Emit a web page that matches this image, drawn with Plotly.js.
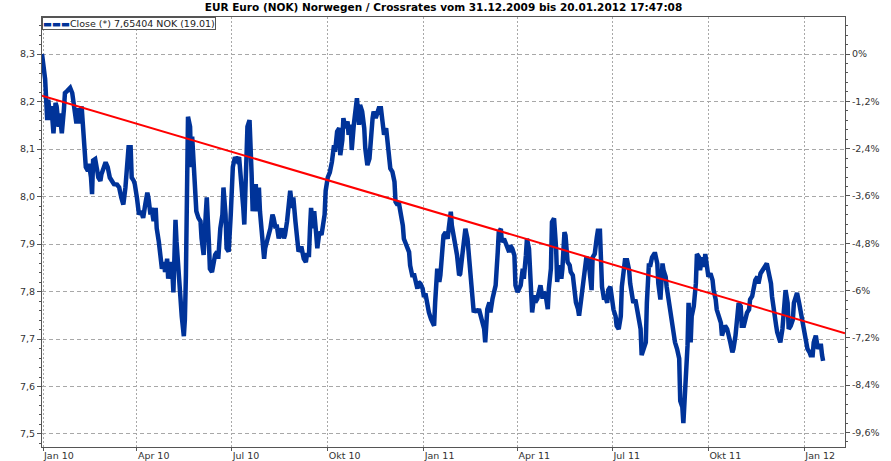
<!DOCTYPE html>
<html>
<head>
<meta charset="utf-8">
<script src="https://cdn.plot.ly/plotly-3.0.1.min.js"></script>
<style>html,body{margin:0;padding:0;background:#fff;}#chart{width:891px;height:461px;}</style>
</head>
<body>
<div id="chart"></div>
<script>
// ---- data ----
const closeDates = [
'2009-12-31','2010-01-03','2010-01-05','2010-01-06','2010-01-08','2010-01-09','2010-01-11','2010-01-13','2010-01-14','2010-01-16',
'2010-01-17','2010-01-19','2010-01-21','2010-01-22','2010-01-24','2010-01-27','2010-01-29','2010-01-31','2010-02-02','2010-02-03',
'2010-02-05','2010-02-07','2010-02-08','2010-02-10','2010-02-11','2010-02-13','2010-02-14','2010-02-16','2010-02-17','2010-02-18',
'2010-02-20','2010-02-22','2010-02-23','2010-02-25','2010-02-26','2010-03-02','2010-03-04','2010-03-06','2010-03-10','2010-03-13',
'2010-03-15','2010-03-17','2010-03-19','2010-03-21','2010-03-22','2010-03-24','2010-03-26','2010-03-27','2010-03-29','2010-03-30',
'2010-04-01','2010-04-03','2010-04-05','2010-04-07','2010-04-09','2010-04-11','2010-04-12','2010-04-14','2010-04-15','2010-04-17',
'2010-04-19','2010-04-20','2010-04-22','2010-04-23','2010-04-25','2010-04-27','2010-04-28','2010-04-30','2010-05-01','2010-05-03',
'2010-05-05','2010-05-06','2010-05-07','2010-05-08','2010-05-09','2010-05-11','2010-05-13','2010-05-14','2010-05-16','2010-05-17',
'2010-05-18','2010-05-19','2010-05-20','2010-05-22','2010-05-23','2010-05-24','2010-05-26','2010-05-28','2010-05-30','2010-06-01',
'2010-06-02','2010-06-04','2010-06-06','2010-06-07','2010-06-09','2010-06-10','2010-06-12','2010-06-14','2010-06-15','2010-06-17',
'2010-06-18','2010-06-20','2010-06-22','2010-06-23','2010-06-25','2010-06-26','2010-06-28','2010-06-30','2010-07-01','2010-07-02',
'2010-07-04','2010-07-06','2010-07-08','2010-07-10','2010-07-12','2010-07-13','2010-07-15','2010-07-16','2010-07-18','2010-07-19',
'2010-07-20','2010-07-21','2010-07-23','2010-07-24','2010-07-25','2010-07-27','2010-07-28','2010-07-30','2010-08-01','2010-08-02',
'2010-08-04','2010-08-05','2010-08-07','2010-08-09','2010-08-10','2010-08-12','2010-08-13','2010-08-15','2010-08-17','2010-08-18',
'2010-08-20','2010-08-21','2010-08-23','2010-08-25','2010-08-26','2010-08-28','2010-08-29','2010-08-31','2010-09-02','2010-09-03',
'2010-09-05','2010-09-06','2010-09-08','2010-09-10','2010-09-11','2010-09-13','2010-09-14','2010-09-15','2010-09-17','2010-09-18',
'2010-09-20','2010-09-21','2010-09-23','2010-09-25','2010-09-26','2010-09-28','2010-09-29','2010-10-01','2010-10-03','2010-10-05',
'2010-10-07','2010-10-08','2010-10-10','2010-10-12','2010-10-13','2010-10-15','2010-10-16','2010-10-18','2010-10-20','2010-10-21',
'2010-10-23','2010-10-24','2010-10-26','2010-10-28','2010-10-29','2010-10-31','2010-11-01','2010-11-03','2010-11-05','2010-11-06',
'2010-11-08','2010-11-10','2010-11-11','2010-11-13','2010-11-14','2010-11-16','2010-11-18','2010-11-19','2010-11-21','2010-11-22',
'2010-11-24','2010-11-26','2010-11-27','2010-11-29','2010-11-30','2010-12-02','2010-12-04','2010-12-05','2010-12-07','2010-12-08',
'2010-12-10','2010-12-12','2010-12-13','2010-12-15','2010-12-16','2010-12-18','2010-12-19','2010-12-21','2010-12-23','2010-12-24',
'2010-12-26','2010-12-27','2010-12-29','2010-12-31','2011-01-01','2011-01-03','2011-01-04','2011-01-06','2011-01-08','2011-01-09',
'2011-01-11','2011-01-12','2011-01-14','2011-01-16','2011-01-17','2011-01-19','2011-01-20','2011-01-22','2011-01-24','2011-01-25',
'2011-01-27','2011-01-28','2011-01-30','2011-02-01','2011-02-02','2011-02-04','2011-02-05','2011-02-07','2011-02-09','2011-02-10',
'2011-02-12','2011-02-13','2011-02-15','2011-02-17','2011-02-18','2011-02-20','2011-02-21','2011-02-23','2011-02-25','2011-02-26',
'2011-02-28','2011-03-01','2011-03-03','2011-03-05','2011-03-06','2011-03-08','2011-03-09','2011-03-11','2011-03-13','2011-03-14',
'2011-03-16','2011-03-17','2011-03-19','2011-03-21','2011-03-22','2011-03-24','2011-03-25','2011-03-27','2011-03-29','2011-03-30',
'2011-04-01','2011-04-02','2011-04-04','2011-04-06','2011-04-07','2011-04-09','2011-04-10','2011-04-12','2011-04-14','2011-04-15',
'2011-04-17','2011-04-18','2011-04-20','2011-04-22','2011-04-23','2011-04-25','2011-04-26','2011-04-28','2011-04-30','2011-05-01',
'2011-05-03','2011-05-04','2011-05-06','2011-05-08','2011-05-09','2011-05-11','2011-05-13','2011-05-14','2011-05-16','2011-05-17',
'2011-05-19','2011-05-21','2011-05-22','2011-05-24','2011-05-25','2011-05-27','2011-05-29','2011-05-30','2011-06-01','2011-06-03',
'2011-06-04','2011-06-06','2011-06-08','2011-06-09','2011-06-11','2011-06-12','2011-06-14','2011-06-16','2011-06-17','2011-06-19',
'2011-06-20','2011-06-21','2011-06-23','2011-06-24','2011-06-26','2011-06-27','2011-06-29','2011-07-01','2011-07-02','2011-07-04',
'2011-07-05','2011-07-07','2011-07-09','2011-07-10','2011-07-12','2011-07-13','2011-07-15','2011-07-17','2011-07-18','2011-07-20',
'2011-07-21','2011-07-23','2011-07-25','2011-07-26','2011-07-28','2011-07-29','2011-07-31','2011-08-02','2011-08-03','2011-08-05',
'2011-08-06','2011-08-08','2011-08-10','2011-08-11','2011-08-13','2011-08-14','2011-08-16','2011-08-18','2011-08-19','2011-08-21',
'2011-08-22','2011-08-24','2011-08-26','2011-08-27','2011-08-29','2011-08-30','2011-09-01','2011-09-03','2011-09-04','2011-09-06',
'2011-09-07','2011-09-08','2011-09-09','2011-09-11','2011-09-12','2011-09-14','2011-09-15','2011-09-17','2011-09-19','2011-09-20',
'2011-09-22','2011-09-23','2011-09-25','2011-09-27','2011-09-28','2011-09-30','2011-10-01','2011-10-03','2011-10-05','2011-10-06',
'2011-10-08','2011-10-09','2011-10-11','2011-10-13','2011-10-14','2011-10-16','2011-10-17','2011-10-19','2011-10-21','2011-10-22',
'2011-10-24','2011-10-25','2011-10-27','2011-10-29','2011-10-30','2011-11-01','2011-11-02','2011-11-04','2011-11-06','2011-11-07',
'2011-11-09','2011-11-10','2011-11-12','2011-11-14','2011-11-15','2011-11-17','2011-11-18','2011-11-20','2011-11-22','2011-11-23',
'2011-11-25','2011-11-26','2011-11-28','2011-11-30','2011-12-01','2011-12-03','2011-12-05','2011-12-06','2011-12-08','2011-12-09',
'2011-12-11','2011-12-13','2011-12-14','2011-12-16','2011-12-17','2011-12-19','2011-12-21','2011-12-22','2011-12-24','2011-12-25',
'2011-12-27','2011-12-29','2011-12-30','2012-01-01','2012-01-02','2012-01-04','2012-01-06','2012-01-07','2012-01-09','2012-01-10',
'2012-01-12','2012-01-14','2012-01-15','2012-01-17','2012-01-18','2012-01-19'
];
const closeValues = [
8.300,8.247,8.161,8.204,8.161,8.190,8.133,8.197,8.190,8.147,
8.175,8.133,8.183,8.218,8.222,8.229,8.218,8.190,8.154,8.186,
8.154,8.190,8.161,8.119,8.062,8.054,8.069,8.040,8.005,8.076,
8.079,8.054,8.040,8.033,8.047,8.072,8.062,8.040,8.026,8.025,
8.019,7.998,7.983,8.019,8.047,8.104,8.104,8.040,8.033,8.026,
7.998,7.962,7.969,7.955,7.983,8.008,7.998,7.962,7.976,7.948,
7.976,7.933,7.905,7.884,7.848,7.862,7.841,7.869,7.827,7.862,
7.841,7.798,7.933,7.951,7.905,7.834,7.777,7.748,7.706,7.741,
7.834,8.047,8.168,8.147,8.062,8.126,8.047,7.969,7.955,7.948,
7.912,7.877,7.962,7.998,7.905,7.848,7.841,7.869,7.877,7.884,
7.869,7.933,7.962,8.019,7.962,7.891,7.884,7.962,7.998,8.062,
8.083,8.076,8.083,8.040,7.976,7.941,8.097,8.147,8.161,8.119,
8.047,7.969,8.005,8.026,7.969,8.019,7.969,7.926,7.869,7.891,
7.905,7.912,7.933,7.962,7.955,7.933,7.941,7.912,7.926,7.933,
7.912,7.919,7.948,7.998,8.012,7.976,7.998,7.948,7.884,7.884,
7.891,7.891,7.869,7.862,7.877,7.877,7.933,7.976,7.933,7.969,
7.919,7.891,7.926,7.919,7.933,7.962,8.012,8.040,8.051,8.073,
8.108,8.094,8.137,8.144,8.087,8.119,8.165,8.144,8.158,8.130,
8.151,8.098,8.151,8.193,8.207,8.151,8.193,8.179,8.144,8.101,
8.066,8.080,8.115,8.165,8.179,8.165,8.179,8.186,8.186,8.165,
8.130,8.144,8.123,8.073,8.059,8.052,8.031,7.989,7.982,7.989,
7.968,7.939,7.911,7.897,7.890,7.883,7.855,7.834,7.834,7.820,
7.806,7.820,7.816,7.806,7.792,7.792,7.777,7.756,7.742,7.735,
7.728,7.777,7.848,7.820,7.834,7.890,7.918,7.925,7.911,7.932,
7.968,7.939,7.918,7.897,7.876,7.834,7.837,7.876,7.918,7.932,
7.911,7.883,7.827,7.763,7.756,7.763,7.756,7.763,7.749,7.735,
7.721,7.693,7.763,7.777,7.756,7.785,7.792,7.813,7.883,7.925,
7.932,7.904,7.911,7.897,7.890,7.883,7.897,7.890,7.876,7.813,
7.799,7.806,7.813,7.848,7.827,7.876,7.911,7.890,7.792,7.756,
7.792,7.777,7.785,7.813,7.813,7.785,7.799,7.792,7.763,7.806,
7.848,7.946,7.954,7.890,7.820,7.855,7.827,7.848,7.925,7.918,
7.862,7.855,7.841,7.834,7.806,7.777,7.763,7.749,7.783,7.824,
7.845,7.872,7.866,7.845,7.803,7.872,7.879,7.914,7.928,7.928,
7.879,7.810,7.783,7.790,7.776,7.803,7.810,7.769,7.762,7.748,
7.728,7.721,7.748,7.810,7.838,7.866,7.866,7.845,7.817,7.790,
7.776,7.783,7.762,7.741,7.721,7.666,7.679,7.693,7.776,7.859,
7.852,7.872,7.879,7.879,7.859,7.817,7.783,7.859,7.845,7.831,
7.810,7.783,7.748,7.728,7.714,7.693,7.679,7.659,7.570,7.557,
7.523,7.557,7.610,7.686,7.776,7.693,7.748,7.769,7.817,7.879,
7.872,7.845,7.872,7.852,7.879,7.845,7.831,7.838,7.824,7.803,
7.783,7.762,7.748,7.734,7.707,7.728,7.728,7.721,7.707,7.693,
7.672,7.679,7.707,7.755,7.776,7.769,7.728,7.728,7.748,7.755,
7.762,7.783,7.790,7.810,7.824,7.831,7.817,7.838,7.845,7.845,
7.852,7.859,7.838,7.817,7.790,7.748,7.728,7.714,7.693,7.693,
7.721,7.769,7.803,7.776,7.721,7.728,7.741,7.776,7.797,7.797,
7.776,7.748,7.734,7.721,7.693,7.679,7.672,7.666,7.666,7.693,
7.707,7.679,7.686,7.686,7.666,7.65404
];
// red trend line (start / end values as drawn)
const trendDates = ['2009-12-31', '2012-02-09'];
const trendValues = [8.2125, 7.712];

const baseValue = 8.30;   // first close, 0% of the right-hand axis
const leftTickVals = [7.5, 7.6, 7.7, 7.8, 7.9, 8.0, 8.1, 8.2, 8.3];
const pctTickVals = [0, -1.2, -2.4, -3.6, -4.8, -6, -7.2, -8.4, -9.6];
const pctTickText = ['0%', '-1,2%', '-2,4%', '-3,6%', '-4,8%', '-6%', '-7,2%', '-8,4%', '-9,6%'];
const xTickVals = ['2010-01-01','2010-04-01','2010-07-01','2010-10-01','2011-01-01','2011-04-01','2011-07-01','2011-10-01','2012-01-01'];
const xTickText = ['Jan 10','Apr 10','Jul 10','Okt 10','Jan 11','Apr 11','Jul 11','Okt 11','Jan 12'];
const seriesName = 'Close (*) 7,65404 NOK (19.01)';
const chartTitle = 'EUR Euro (NOK) Norwegen / Crossrates vom 31.12.2009 bis 20.01.2012 17:47:08';

// ---- chart ----
const yRange = [7.4726, 8.378];
const y2Range = yRange.map(v => (v / baseValue - 1) * 100);
const axisColor = '#555555';
const lineBlue = '#003399';
const tickFont = {family: '"DejaVu Sans", Verdana, sans-serif', size: 9.5, color: '#333333'};

const traces = [
  {
    type: 'scatter', mode: 'lines', name: seriesName,
    x: closeDates, y: closeValues,
    line: {color: lineBlue, width: 4.5, shape: 'linear'},
    hoverinfo: 'skip', showlegend: false
  },
  {
    type: 'scatter', mode: 'lines', showlegend: false,
    x: trendDates, y: trendValues,
    line: {color: '#ff0000', width: 2},
    hoverinfo: 'skip'
  },
  // carrier for the percent axis on the right (nothing visible)
  {
    type: 'scatter', mode: 'lines', showlegend: false, yaxis: 'y2',
    x: trendDates, y: [y2Range[0], y2Range[0]],
    line: {color: 'rgba(0,0,0,0)', width: 0},
    hoverinfo: 'skip'
  }
];

const layout = {
  width: 891, height: 461,
  margin: {l: 42, r: 46, t: 17, b: 14, pad: 0},
  paper_bgcolor: '#ffffff', plot_bgcolor: '#ffffff',
  separators: ',.',
  font: tickFont,
  title: {
    text: '<b>' + chartTitle + '</b>',
    font: {family: '"DejaVu Sans", Verdana, sans-serif', size: 10.5, color: '#000000'},
    x: 0.5, xanchor: 'center', xref: 'paper',
    y: 0.985, yanchor: 'middle', yref: 'container'
  },
  showlegend: false,
  annotations: [{
    xref: 'paper', yref: 'paper', x: 0, y: 1, xanchor: 'left', yanchor: 'top',
    text: '<span style="color:' + lineBlue + '">\u25AC\u25AC\u25AC</span>' + seriesName,
    showarrow: false, align: 'left',
    font: {family: '"DejaVu Sans", Verdana, sans-serif', size: 9.5, color: '#222222'},
    bgcolor: '#ffffff', bordercolor: axisColor, borderwidth: 1, borderpad: 0
  }],
  xaxis: {
    type: 'date', range: ['2009-12-31', '2012-02-09'],
    tickmode: 'array', tickvals: xTickVals, ticktext: xTickText,
    ticks: 'outside', ticklen: 3, tickcolor: axisColor,
    ticklabelposition: 'outside right',
    tickfont: tickFont,
    showgrid: true, gridcolor: '#a8a8a8', gridwidth: 1, griddash: '2px,2px',
    showline: true, linecolor: axisColor, linewidth: 1, mirror: true,
    zeroline: false, fixedrange: true
  },
  yaxis: {
    range: yRange,
    tickmode: 'array', tickvals: leftTickVals, tickformat: '.1f',
    ticks: 'outside', ticklen: 4, tickcolor: axisColor,
    minor: {tick0: 7.5, dtick: 0.02, ticks: 'outside', ticklen: 2, tickcolor: axisColor, showgrid: false},
    tickfont: tickFont,
    showgrid: true, gridcolor: '#a8a8a8', gridwidth: 1, griddash: '4px,3px',
    showline: true, linecolor: axisColor, linewidth: 1, mirror: true,
    zeroline: false, fixedrange: true
  },
  yaxis2: {
    overlaying: 'y', side: 'right', anchor: 'x',
    range: y2Range,
    tickmode: 'array', tickvals: pctTickVals, ticktext: pctTickText,
    ticks: 'outside', ticklen: 4, tickcolor: axisColor,
    minor: {tick0: 0, dtick: 0.24, ticks: 'outside', ticklen: 2, tickcolor: axisColor, showgrid: false},
    tickfont: tickFont,
    showgrid: false, showline: true, linecolor: axisColor, linewidth: 1,
    zeroline: false, fixedrange: true
  }
};

Plotly.newPlot('chart', traces, layout, {displayModeBar: false, staticPlot: true});
</script>
</body>
</html>
